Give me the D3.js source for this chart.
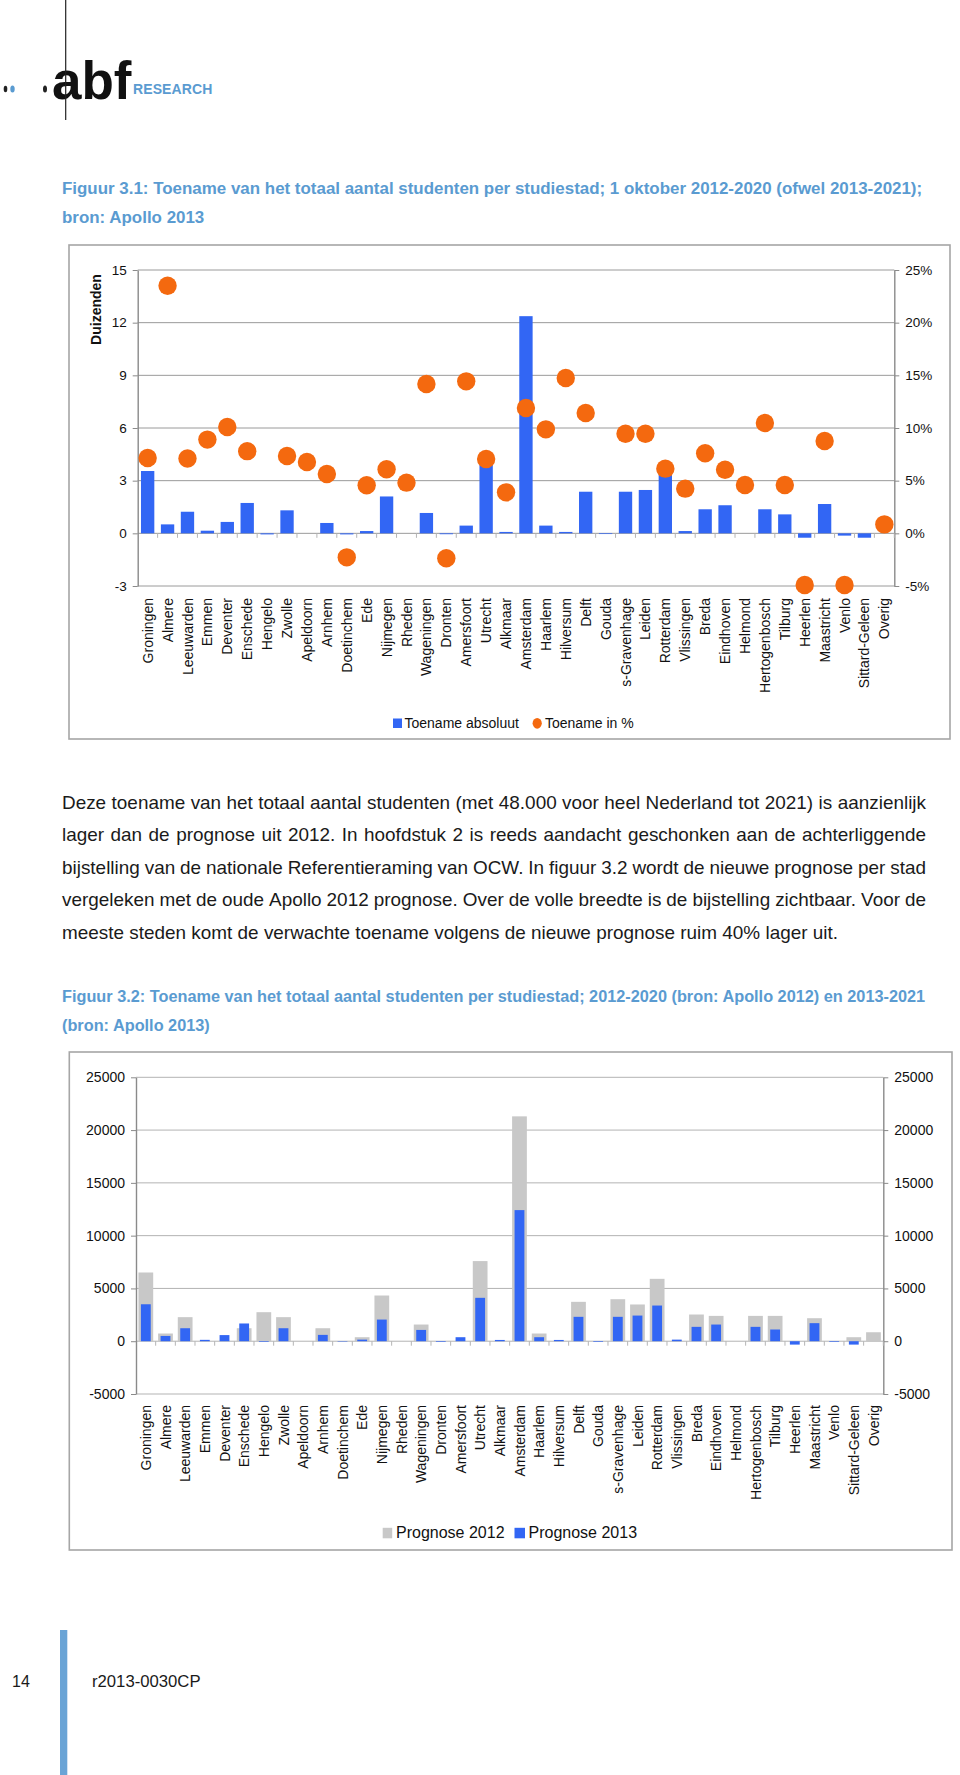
<!DOCTYPE html>
<html><head><meta charset="utf-8">
<script src="https://cdn.jsdelivr.net/npm/d3@7"></script>
<style>
body{margin:0;background:#fff}
svg{display:block}
text{font-family:"Liberation Sans",Arial,Helvetica,sans-serif}
</style>
</head><body>
<svg id="page" width="960" height="1775"></svg>
<script>
// ---------------- DATA ----------------
const steden = ["Groningen","Almere","Leeuwarden","Emmen","Deventer","Enschede","Hengelo","Zwolle","Apeldoorn","Arnhem","Doetinchem","Ede","Nijmegen","Rheden","Wageningen","Dronten","Amersfoort","Utrecht","Alkmaar","Amsterdam","Haarlem","Hilversum","Delft","Gouda","s-Gravenhage","Leiden","Rotterdam","Vlissingen","Breda","Eindhoven","Helmond","Hertogenbosch","Tilburg","Heerlen","Maastricht","Venlo","Sittard-Geleen","Overig"];

// Figuur 3.1 — toename absoluut (duizenden)
const toenameAbsoluut = [3.55,0.51,1.23,0.15,0.65,1.73,-0.06,1.31,0.0,0.59,-0.06,0.13,2.1,0.0,1.16,-0.05,0.44,4.1,0.08,12.37,0.44,0.08,2.37,-0.04,2.37,2.47,3.4,0.13,1.37,1.6,0.0,1.37,1.08,-0.25,1.67,-0.13,-0.25,0.0];
// Figuur 3.1 — toename in % (null = niet zichtbaar)
const toenamePct = [7.15,23.5,7.1,8.9,10.1,7.8,null,7.34,6.77,5.63,-2.28,4.56,6.08,4.81,14.18,-2.37,14.43,7.06,3.89,11.9,9.87,14.75,11.42,null,9.46,9.46,6.14,4.24,7.6,6.04,4.59,10.47,4.59,-4.9,8.77,-4.9,null,0.85];

// Figuur 3.2 — prognoses (aantal studenten)
const prognose2012 = [6510,730,2280,0,0,1230,2750,2280,0,1230,0,380,4330,0,1580,0,0,7590,0,21300,730,0,3730,0,3980,3480,5910,0,2530,2400,0,2400,2400,0,2180,0,380,850];
const prognose2013 = [3500,500,1230,130,580,1680,-60,1230,0,600,-40,150,2050,0,1070,-60,380,4110,120,12420,380,120,2310,-60,2310,2430,3380,150,1360,1580,0,1360,1110,-320,1710,-60,-320,0];

const ticksDuizenden = [-3,0,3,6,9,12,15];
const ticksPct = [-5,0,5,10,15,20,25];
const ticksAantal = [-5000,0,5000,10000,15000,20000,25000];

const legend1 = ["Toename absoluut","Toename in %"];
const legend2 = ["Prognose 2012","Prognose 2013"];

const titel1 = ["Figuur 3.1: Toename van het totaal aantal studenten per studiestad; 1 oktober 2012-2020 (ofwel 2013-2021);","bron: Apollo 2013"];
const titel2 = ["Figuur 3.2: Toename van het totaal aantal studenten per studiestad; 2012-2020 (bron: Apollo 2012) en 2013-2021","(bron: Apollo 2013)"];
const alinea = [
 "Deze toename van het totaal aantal studenten (met 48.000 voor heel Nederland tot 2021) is aanzienlijk",
 "lager dan de prognose uit 2012. In hoofdstuk 2 is reeds aandacht geschonken aan de achterliggende",
 "bijstelling van de nationale Referentieraming van OCW. In figuur 3.2 wordt de nieuwe prognose per stad",
 "vergeleken met de oude Apollo 2012 prognose. Over de volle breedte is de bijstelling zichtbaar. Voor de",
 "meeste steden komt de verwachte toename volgens de nieuwe prognose ruim 40% lager uit."
];

// ---------------- STYLE ----------------
const BLUE = "#3266f4", ORANGE = "#f4690f", GREY = "#c8c8c8", TITLE = "#5a9bd1", TEXT = "#1a1a1a";

const svg = d3.select("#page");

// ---------------- HEADER / LOGO ----------------
const logo = svg.append("g");
logo.append("text").attr("x",52).attr("y",99).style("font-size","53px").style("font-weight","bold").attr("fill","#111").text("abf");
logo.append("line").attr("x1",65.7).attr("x2",65.7).attr("y1",0).attr("y2",120).attr("stroke","#222").attr("stroke-width",1.2);
logo.append("text").attr("x",133).attr("y",93.5).style("font-size","14px").style("font-weight","bold").style("letter-spacing","0.1px").attr("fill",TITLE).text("RESEARCH");
logo.append("ellipse").attr("cx",5.5).attr("cy",89).attr("rx",1.8).attr("ry",3.3).attr("fill","#222");
logo.append("ellipse").attr("cx",12.5).attr("cy",89).attr("rx",2.2).attr("ry",3.5).attr("fill",TITLE);
logo.append("ellipse").attr("cx",45).attr("cy",89).attr("rx",2).attr("ry",3.5).attr("fill","#222");

// helper: measure text width
function measure(str, fs, weight){
  const t = svg.append("text").style("font-size",fs+"px").style("font-weight",weight||"normal").text(str);
  const w = t.node().getComputedTextLength(); t.remove(); return w;
}
function titleBlock(lines, y0, lh, targetW){
  const fs = 100*targetW/measure(lines[0],100,"bold");
  lines.forEach((l,i)=>{
    svg.append("text").attr("x",62).attr("y",y0+i*lh).style("font-size",fs+"px").style("font-weight","bold").attr("fill",TITLE).text(l);
  });
}
titleBlock(titel1, 194, 29, 861);
titleBlock(titel2, 1002, 28.5, 864);

// paragraph (justified)
(function(){
  const fs = 100*776/measure(alinea[4],100);
  const g = svg.append("g").attr("fill",TEXT);
  const ys = [808.5,841,873.5,906,938.5];
  alinea.forEach((line,li)=>{
    const words = line.split(" ");
    const ws = words.map(w=>measure(w,fs));
    const target = li<4 ? 864 : 776;
    const gap = (target - d3.sum(ws))/(words.length-1);
    let x = 62;
    words.forEach((w,i)=>{
      g.append("text").attr("x",x).attr("y",ys[li]).style("font-size",fs+"px").text(w);
      x += ws[i]+gap;
    });
  });
})();

// footer
svg.append("text").attr("x",12).attr("y",1687).style("font-size","16px").attr("fill",TEXT).text("14");
svg.append("rect").attr("x",60).attr("y",1630).attr("width",7.3).attr("height",145).attr("fill","#6aa4d6");
svg.append("text").attr("x",92).attr("y",1687).style("font-size","16.7px").attr("fill",TEXT).text("r2013-0030CP");

// ---------------- CHART helpers ----------------
function frame(x0,y0,x1,y1){
  svg.append("rect").attr("x",x0).attr("y",y0).attr("width",x1-x0).attr("height",y1-y0)
    .attr("fill","none").attr("stroke","#a6a6a6").attr("stroke-width",1.6);
}
function axes(x, yL, yR, ticksL, ticksR, fmtL, fmtR, fs, gridColor){
  const [xa, xb] = x.range();
  const g = svg.append("g");
  g.selectAll("line.grid").data(ticksL).join("line")
    .attr("x1",xa).attr("x2",xb).attr("y1",d=>yL(d)).attr("y2",d=>yL(d))
    .attr("stroke",gridColor).attr("stroke-width",1);
  const la = g.append("g").attr("transform",`translate(${xa},0)`)
    .call(d3.axisLeft(yL).tickValues(ticksL).tickSizeInner(5).tickSizeOuter(0).tickPadding(6).tickFormat(fmtL));
  const ra = g.append("g").attr("transform",`translate(${xb},0)`)
    .call(d3.axisRight(yR).tickValues(ticksR).tickSizeInner(5).tickSizeOuter(0).tickPadding(6).tickFormat(fmtR));
  [la,ra].forEach(a=>{
    a.select(".domain").attr("stroke","#8a8a8a").attr("stroke-width",1.4);
    a.selectAll(".tick line").attr("stroke","#8a8a8a");
    a.selectAll(".tick text").attr("fill","#111").style("font-size",fs+"px")
      .style("font-family",'"Liberation Sans",Arial,sans-serif');
  });
  const bw = x.bandwidth();
  g.selectAll("line.xt").data(d3.range(1, x.domain().length+1)).join("line")
    .attr("x1",i=>xa+i*bw).attr("x2",i=>xa+i*bw)
    .attr("y1",yL(0)).attr("y2",yL(0)+4.5).attr("stroke","#b5b5b5").attr("stroke-width",1);
  return g;
}
function catLabels(x, yTop){
  svg.append("g").selectAll("text").data(x.domain()).join("text")
    .attr("transform",d=>`translate(${x(d)+x.bandwidth()/2},${yTop}) rotate(-90)`)
    .attr("text-anchor","end").attr("dy","0.36em")
    .style("font-size","14px").attr("fill","#111").text(d=>d);
}
const plain = d => String(d);

// ---------------- FIGUUR 3.1 ----------------
frame(69,245,950,739);
const x1 = d3.scaleBand().domain(steden).range([137.7,894.3]).padding(0);
const y1 = d3.scaleLinear().domain([-3,15]).range([586,270]);
const yP = d3.scaleLinear().domain([-5,25]).range([586,270]);
axes(x1, y1, yP, ticksDuizenden, ticksPct, plain, d=>d+"%", 13.5, "#9a9a9a");

const bw1 = x1.bandwidth();
svg.append("g").selectAll("rect").data(steden.map((s,i)=>({s,v:toenameAbsoluut[i]}))).join("rect")
  .attr("x",d=>x1(d.s)+bw1*0.165).attr("width",bw1*0.67)
  .attr("y",d=>Math.min(y1(d.v),y1(0))).attr("height",d=>Math.abs(y1(d.v)-y1(0)))
  .attr("fill",BLUE);
svg.append("g").selectAll("circle").data(steden.map((s,i)=>({s,v:toenamePct[i]})).filter(d=>d.v!==null)).join("circle")
  .attr("cx",d=>x1(d.s)+bw1/2).attr("cy",d=>yP(d.v)).attr("r",9.2).attr("fill",ORANGE);

catLabels(x1, 598);
svg.append("text").attr("transform","translate(101,309.5) rotate(-90)").attr("text-anchor","middle")
  .style("font-size","14px").style("font-weight","bold").attr("fill","#111").text("Duizenden");

// legend 1
const lg1 = svg.append("g").style("font-size","14px").attr("fill","#111");
lg1.append("rect").attr("x",393).attr("y",718.5).attr("width",9).attr("height",9.5).attr("fill",BLUE);
lg1.append("text").attr("x",404.5).attr("y",728).text(legend1[0]);
lg1.append("ellipse").attr("cx",537.2).attr("cy",723.3).attr("rx",4.6).attr("ry",5.4).attr("fill",ORANGE);
lg1.append("text").attr("x",545).attr("y",728).text(legend1[1]);

// ---------------- FIGUUR 3.2 ----------------
frame(69.3,1052,952,1550);
const x2 = d3.scaleBand().domain(steden).range([136,883.3]).padding(0);
const y2 = d3.scaleLinear().domain([-5000,25000]).range([1394,1077.3]);
axes(x2, y2, y2, ticksAantal, ticksAantal, plain, plain, 14, "#b3b3b3");

const bw2 = x2.bandwidth();
svg.append("g").selectAll("rect").data(steden.map((s,i)=>({s,v:prognose2012[i]}))).join("rect")
  .attr("x",d=>x2(d.s)+bw2*0.125).attr("width",bw2*0.75)
  .attr("y",d=>Math.min(y2(d.v),y2(0))).attr("height",d=>Math.abs(y2(d.v)-y2(0)))
  .attr("fill",GREY);
svg.append("g").selectAll("rect").data(steden.map((s,i)=>({s,v:prognose2013[i]}))).join("rect")
  .attr("x",d=>x2(d.s)+bw2*0.25).attr("width",bw2*0.5)
  .attr("y",d=>Math.min(y2(d.v),y2(0))).attr("height",d=>Math.abs(y2(d.v)-y2(0)))
  .attr("fill",BLUE);

catLabels(x2, 1405);

// legend 2
const lg2 = svg.append("g").style("font-size","16px").attr("fill","#111");
lg2.append("rect").attr("x",382.7).attr("y",1527.8).attr("width",9.5).attr("height",10.5).attr("fill",GREY);
lg2.append("text").attr("x",396).attr("y",1538).text(legend2[0]);
lg2.append("rect").attr("x",514.5).attr("y",1527.8).attr("width",10.5).attr("height",10.5).attr("fill",BLUE);
lg2.append("text").attr("x",528.5).attr("y",1538).text(legend2[1]);
</script>
</body></html>
